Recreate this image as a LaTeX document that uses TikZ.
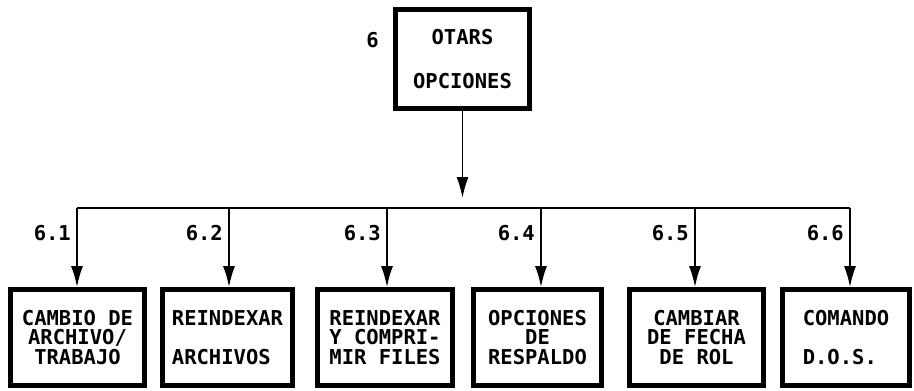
\documentclass[tikz,border=0pt]{standalone}
\usepackage{fontspec}
\setmonofont{DejaVu Sans Mono}
\usetikzlibrary{arrows.meta,positioning}
\newcommand{\plotfont}{\ttfamily\bfseries\fontsize{20.5}{19.5}\selectfont}
\tikzset{
	box/.style={draw,rectangle,line width=4.8pt,align=center,font=\plotfont,
		inner sep=0pt,minimum height=96pt},
	num/.style={font=\plotfont,inner sep=0pt},
	link/.style={line width=1.8pt},
	>={Latex[length=21pt,width=12pt]}
}

\begin{document}
\begin{tikzpicture}[x=1pt,y=1pt]
	\useasboundingbox (0,0) rectangle (914,-391);
	% parent
	\node[box,minimum width=134pt,minimum height=99pt] (top) at (462.5,-59) {OTARS\\[25pt]OPCIONES};
	\node[num,anchor=east] at (379,-40) {6};
	% children
	\node[box,minimum width=134pt] (arch) at (77.5,-337.5) {CAMBIO DE\\ARCHIVO/\\TRABAJO};
	\node[box,minimum width=130pt,align=left] (reind) at (227.5,-337.5) {REINDEXAR\\[19.5pt]ARCHIVOS};
	\node[box,minimum width=135pt] (compr) at (385,-337.5) {REINDEXAR\\Y COMPRI-\\MIR FILES};
	\node[box,minimum width=128pt] (resp) at (537.5,-337.5) {OPCIONES\\DE\\RESPALDO};
	\node[box,minimum width=134pt] (fecha) at (696.5,-337.5) {CAMBIAR\\DE FECHA\\DE ROL};
	\node[box,minimum width=127pt,align=left] (dos) at (846,-337.5) {COMANDO\\[19.5pt]D.O.S.};
	% bar
	\coordinate (hub) at (top.south |- 0,-208);
	\coordinate (j1) at (77,-208);
	\coordinate (j2) at (229,-208);
	\coordinate (j3) at (387,-208);
	\coordinate (j4) at (541,-208);
	\coordinate (j5) at (695,-208);
	\coordinate (j6) at (850,-208);
	\draw[link,->,shorten >=10pt] (top) -- (hub);
	\draw[link] (j1) -- (j6);
	\draw[link,->] (j1) -- (j1 |- arch.north);
	\draw[link,->] (j2) -- (j2 |- reind.north);
	\draw[link,->] (j3) -- (j3 |- compr.north);
	\draw[link,->] (j4) -- (j4 |- resp.north);
	\draw[link,->] (j5) -- (j5 |- fecha.north);
	\draw[link,->] (j6) -- (j6 |- dos.north);
	% numbers
	\node[num,below left=17pt and 6pt of j1] {6.1};
	\node[num,below left=17pt and 6pt of j2] {6.2};
	\node[num,below left=17pt and 6pt of j3] {6.3};
	\node[num,below left=17pt and 6pt of j4] {6.4};
	\node[num,below left=17pt and 6pt of j5] {6.5};
	\node[num,below left=17pt and 6pt of j6] {6.6};
\end{tikzpicture}
\end{document}
